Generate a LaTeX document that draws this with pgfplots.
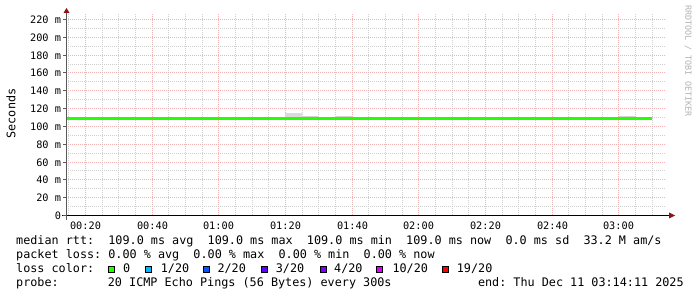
\documentclass[border=0pt]{standalone}
\usepackage{pgfplots}
\pgfplotsset{compat=1.18}
\usepackage{fontspec}
\setmainfont{DejaVu Sans Mono}
\setmonofont{DejaVu Sans Mono}
\frenchspacing
\definecolor{majgrid}{RGB}{240,178,178}
\definecolor{mingrid}{RGB}{208,208,208}
\definecolor{medgreen}{RGB}{38,255,0}
\definecolor{smoke}{RGB}{218,218,218}
\definecolor{smokeb}{RGB}{210,210,210}
\definecolor{arrowred}{RGB}{140,20,20}
\definecolor{lossA}{RGB}{38,255,0}
\definecolor{lossB}{RGB}{0,184,255}
\definecolor{lossC}{RGB}{0,89,255}
\definecolor{lossD}{RGB}{94,0,255}
\definecolor{lossE}{RGB}{126,0,255}
\definecolor{lossF}{RGB}{221,0,255}
\definecolor{lossG}{RGB}{255,0,0}
\newcommand{\legfont}{\fontsize{11.78bp}{14bp}\selectfont}
\newcommand{\axfont}{\fontsize{10.25bp}{12bp}\selectfont}
\begin{document}
\begin{tikzpicture}
\useasboundingbox (0,0) rectangle (697bp,297bp);
\begin{axis}[
  at={(66bp,81.5bp)}, anchor=south west,
  scale only axis, width=600bp, height=202bp,
  xmin=14.1833, xmax=194.1833, ymin=0, ymax=226.73,
  axis line style={draw=none},
  xtick={20.0333,40.1333,59.9333,80.0333,100.1333,119.9333,140.0333,160.1333,179.9333},
  xticklabels={00:20,00:40,01:00,01:20,01:40,02:00,02:20,02:40,03:00},
  minor xtick={14.9333,25.1333,29.9333,35.0333,44.9333,50.0333,55.1333,65.0333,70.1333,74.9333,85.1333,89.9333,95.0333,104.9333,110.0333,115.1333,125.0333,130.1333,134.9333,145.1333,149.9333,155.0333,164.9333,170.0333,175.1333,185.0333,190.1333},
  ytick={0,20.204,40.408,59.490,79.694,99.898,120.10,140.31,160.51,179.59,199.80,220},
  yticklabels={0,20 m,40 m,60 m,80 m,100 m,120 m,140 m,160 m,180 m,200 m,220 m},
  minor ytick={10.102,30.306,50.510,69.592,89.796,110.0,130.20,150.41,169.49,189.69,209.90},
  major tick length=0pt, minor tick length=0pt,
  xmajorgrids, ymajorgrids, xminorgrids, yminorgrids,
  major grid style={majgrid, line width=1bp, dash pattern=on 1bp off 1bp},
  minor grid style={mingrid, line width=1bp, dash pattern=on 1bp off 1bp},
  xticklabel style={font=\axfont, anchor=north, inner sep=0pt, yshift=-6bp},
  yticklabel style={font=\axfont, anchor=east, inner sep=0pt, xshift=-4.8bp},
  clip=false,
]
\addplot[draw=none, fill=smoke] coordinates {(80,108) (80,114.5) (85,114.5) (85,108)} -- cycle;
\addplot[draw=none, fill=smokeb] coordinates {(85,108) (85,112) (90,112) (90,108)} -- cycle;
\addplot[draw=none, fill=smokeb] coordinates {(95,108) (95,112) (100,112) (100,108)} -- cycle;
\addplot[draw=none, fill=smokeb] coordinates {(180,108) (180,111.6) (185,111.6) (185,108)} -- cycle;
\addplot[medgreen, line width=2.6bp, const plot] coordinates {(14.1833,109) (190,109)};
\end{axis}
% axis lines
\draw[black!65, line width=1bp] (66.5bp,77bp) -- (66.5bp,285bp);
\fill[arrowred] (63.5bp,284bp) -- (69.5bp,284bp) -- (66.5bp,289bp) -- cycle;
\draw[black, line width=1bp] (62bp,81.5bp) -- (670bp,81.5bp);
\fill[arrowred] (669bp,78.5bp) -- (669bp,84.5bp) -- (675bp,81.5bp) -- cycle;
\foreach \r in {0,18,36,53,71,89,107,125,143,160,178,196} {
  \pgfmathsetmacro{\yy}{81.5+\r}
  \draw[black!65, line width=1bp] (63bp,\yy bp) -- (66.5bp,\yy bp);
}
% y label
\node[rotate=90, font=\legfont, inner sep=0pt] at (11bp,183.5bp) {Seconds};
% watermark
\node[rotate=-90, anchor=west, inner sep=0pt, font=\fontsize{8.4bp}{10bp}\selectfont, text=black!30] at (688bp,292bp) {RRDTOOL / TOBI OETIKER};
% legend
\node[anchor=base west, inner sep=0pt, font=\legfont] at (16bp,52.3bp) {median rtt:~~109.0 ms avg~~109.0 ms max~~109.0 ms min~~109.0 ms now~~0.0 ms sd~~33.2 M am/s};
\node[anchor=base west, inner sep=0pt, font=\legfont] at (16bp,38.3bp) {packet loss: 0.00 \% avg~~0.00 \% max~~0.00 \% min~~0.00 \% now};
\node[anchor=base west, inner sep=0pt, font=\legfont] at (16bp,24.3bp) {loss color:};
\foreach \bx/\lx/\c/\t in {108.5/123/lossA/0, 145.5/160.7/lossB/1\slash 20, 203.5/217.3/lossC/2\slash 20, 261.5/275.7/lossD/3\slash 20, 320.5/334/lossE/4\slash 20, 376.5/392.3/lossF/10\slash 20, 442.5/456.7/lossG/19\slash 20} {
  \filldraw[fill=\c, draw=black, line width=1bp] (\bx bp,24.5bp) rectangle (\bx bp+6bp,30.5bp);
  \node[anchor=base west, inner sep=0pt, font=\legfont] at (\lx bp,24.3bp) {\t};
}
\node[anchor=base west, inner sep=0pt, font=\legfont] at (16bp,10.3bp) {probe:};
\node[anchor=base west, inner sep=0pt, font=\legfont] at (107.7bp,10.3bp) {20 ICMP Echo Pings (56 Bytes) every 300s};
\node[anchor=base west, inner sep=0pt, font=\legfont] at (477.8bp,10.3bp) {end: Thu Dec 11 03:14:11 2025};
\end{tikzpicture}
\end{document}
